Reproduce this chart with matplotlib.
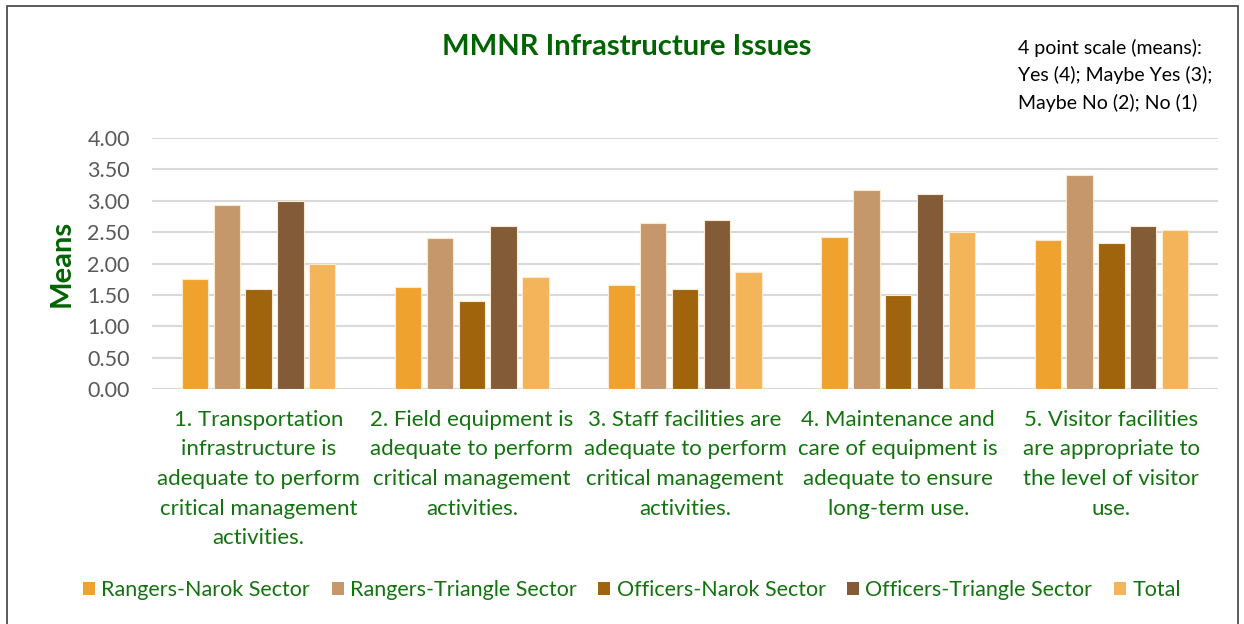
import matplotlib
matplotlib.use("Agg")
import matplotlib.pyplot as plt
from matplotlib.patches import Rectangle, Patch
import numpy as np

categories = [
    "1. Transportation\ninfrastructure is\nadequate to perform\ncritical management\nactivities.",
    "2. Field equipment is\nadequate to perform\ncritical management\nactivities.",
    "3. Staff facilities are\nadequate to perform\ncritical management\nactivities.",
    "4. Maintenance and\ncare of equipment is\nadequate to ensure\nlong-term use.",
    "5. Visitor facilities\nare appropriate to\nthe level of visitor\nuse.",
]
series_names = ["Rangers-Narok Sector", "Rangers-Triangle Sector", "Officers-Narok Sector",
                "Officers-Triangle Sector", "Total"]
rangers_narok = [1.75, 1.62, 1.66, 2.42, 2.37]
rangers_triangle = [2.94, 2.41, 2.64, 3.17, 3.41]
officers_narok = [1.60, 1.40, 1.60, 1.50, 2.33]
officers_triangle = [3.00, 2.60, 2.70, 3.10, 2.60]
total = [2.00, 1.78, 1.87, 2.50, 2.53]
series_values = [rangers_narok, rangers_triangle, officers_narok, officers_triangle, total]
colors = ["#F0A22E", "#C5976B", "#A0640C", "#835B36", "#F4B45A"]
yticks = [0, 0.5, 1.0, 1.5, 2.0, 2.5, 3.0, 3.5, 4.0]

green = "#13730F"
title_green = "#006400"
font = ["Lato", "DejaVu Sans"]
plt.rcParams["font.family"] = font

fig = plt.figure(figsize=(12.44, 6.24), dpi=100)
ax = fig.add_axes([152/1244, 1-389/624, (1218-152)/1244, (389-138)/624])

x = np.arange(len(categories))
slot = 0.149
bw = 0.124
for i, (vals, c, name) in enumerate(zip(series_values, colors, series_names)):
    ax.bar(x + (i - 2) * slot, vals, width=bw, color=c, edgecolor="#FBE9D0",
           linewidth=0.8, label=name, zorder=3)

ax.set_xlim(-0.5, 4.5)
ax.set_ylim(0, 4.0)
ax.set_yticks(yticks)
ax.set_yticklabels([f"{v:.2f}" for v in yticks], color="#595959", fontsize=15.5)
ax.yaxis.grid(True, color="#D9D9D9", linewidth=1.5, zorder=0)
ax.set_axisbelow(True)
for s in ax.spines.values():
    s.set_visible(False)
ax.tick_params(axis="both", length=0)
ax.tick_params(axis="y", pad=16)
ax.set_xticks(x)
ax.set_xticklabels(categories, color=green, fontsize=16, linespacing=1.6, va="top")
ax.tick_params(axis="x", pad=15)

ax.set_ylabel("Means", color=title_green, fontsize=21, fontweight="bold", labelpad=9)

fig.text(0.504, 1-47/624, "MMNR Infrastructure Issues", color=title_green, fontsize=21,
         fontweight="bold", ha="center", va="center")
fig.text(1018/1244, 1-39/624, "4 point scale (means):\nYes (4); Maybe Yes (3);\nMaybe No (2); No (1)",
         color="black", fontsize=14, ha="left", va="top", linespacing=1.62)

handles = [Patch(facecolor=c, edgecolor="none") for c in colors]
leg = fig.legend(handles, series_names, loc="center", bbox_to_anchor=(0.508, 1-590/624),
                 ncol=5, frameon=False, fontsize=15.5, handlelength=0.55, handleheight=0.55,
                 handletextpad=0.3, columnspacing=1.0)
for t in leg.get_texts():
    t.set_color(green)

fig.patches.append(Rectangle((7/1244, -0.01), (1238-7)/1244, 1-6/624 + 0.01,
                             transform=fig.transFigure, fill=False,
                             edgecolor="#404040", linewidth=1.2))

fig.savefig("out.png", dpi=100)
